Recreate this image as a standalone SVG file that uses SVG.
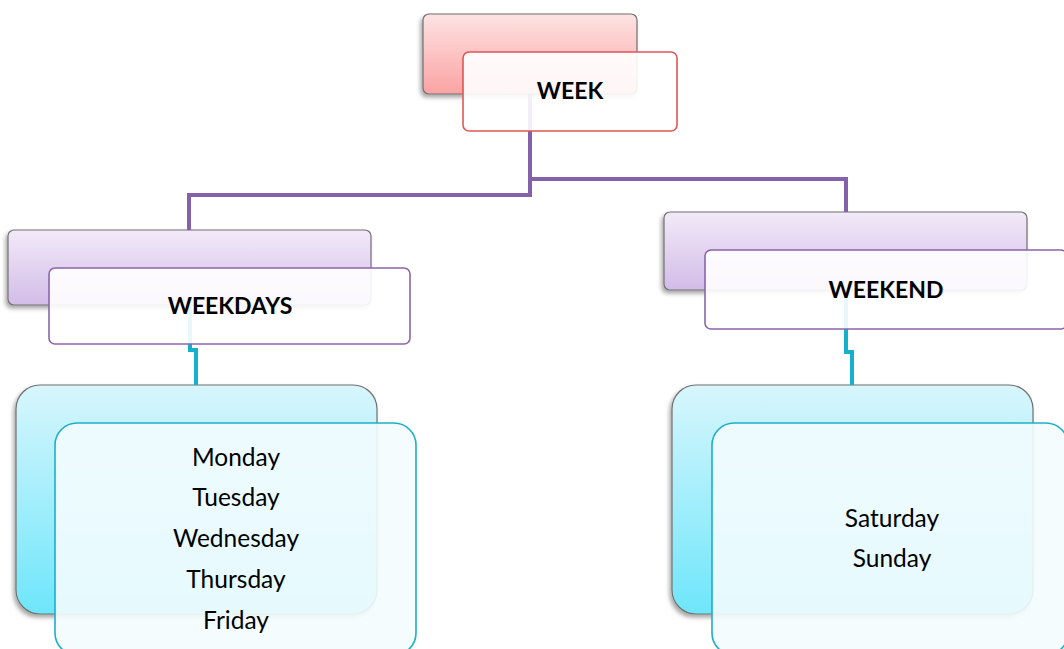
<svg xmlns="http://www.w3.org/2000/svg" width="1064" height="649" viewBox="0 0 1064 649">
<defs>
<linearGradient id="gPink" x1="0" y1="0" x2="0" y2="1"><stop offset="0" stop-color="#fde3e3"/><stop offset="1" stop-color="#fba3a3"/></linearGradient>
<linearGradient id="gPurple" x1="0" y1="0" x2="0" y2="1"><stop offset="0" stop-color="#f2eaf8"/><stop offset="1" stop-color="#d2bce8"/></linearGradient>
<linearGradient id="gCyan" x1="0" y1="0" x2="0" y2="1"><stop offset="0" stop-color="#d8f6fc"/><stop offset="1" stop-color="#6ee6fb"/></linearGradient>
<filter id="sh" x="-10%" y="-10%" width="120%" height="130%"><feDropShadow dx="-2" dy="3" stdDeviation="2" flood-color="#000" flood-opacity="0.35"/></filter>
</defs>
<style>
.back{stroke:#707070;stroke-width:1.2;filter:url(#sh)}
.front{fill:#ffffff;fill-opacity:0.9;stroke-width:1.6}
.frontc{fill:#f3fcfe;fill-opacity:0.9;stroke:#1eaec8;stroke-width:1.6}
.head{font-family:Lato,"Liberation Sans",sans-serif;font-weight:bold;font-size:23px;fill:#000;text-anchor:middle}
.item{font-family:Lato,"Liberation Sans",sans-serif;font-size:24.5px;fill:#000;text-anchor:middle}
.cp{fill:none;stroke:#8461a8;stroke-width:4}
.cc{fill:none;stroke:#14b0cc;stroke-width:4}
</style>
<rect width="1064" height="649" fill="#ffffff"/>
<g id="back-layer">
<rect class="back" x="423" y="14" width="214" height="80" rx="6" fill="url(#gPink)"/>
<rect class="back" x="8" y="230" width="363" height="75" rx="6" fill="url(#gPurple)"/>
<rect class="back" x="664" y="212" width="363" height="78" rx="6" fill="url(#gPurple)"/>
<rect class="back" x="16" y="385" width="361" height="229" rx="24" fill="url(#gCyan)"/>
<rect class="back" x="672" y="385" width="361" height="229" rx="24" fill="url(#gCyan)"/>
</g>
<g id="connectors">
<path class="cp" d="M530,94 V195 H189 V230"/>
<path class="cp" d="M530,179 H846 V212"/>
<path class="cc" d="M190,305 V350 H196 V385"/>
<path class="cc" d="M846,290 V352 H852 V385"/>
</g>
<g id="week">
<rect class="front" x="463" y="52" width="214" height="79" rx="6" stroke="#e05656"/>
<text class="head" x="570" y="99">WEEK</text>
</g>
<g id="weekdays">
<rect class="front" x="49" y="268" width="361" height="76" rx="6" stroke="#8c64aa"/>
<text class="head" x="230" y="314">WEEKDAYS</text>
</g>
<g id="weekend">
<rect class="front" x="705" y="250" width="362" height="79" rx="6" stroke="#8c64aa"/>
<text class="head" x="886" y="298">WEEKEND</text>
</g>
<g id="weekdays-list">
<rect class="frontc" x="55" y="423" width="361" height="232" rx="22"/>
<text class="item" x="236" y="466">Monday</text>
<text class="item" x="236" y="506">Tuesday</text>
<text class="item" x="236" y="547">Wednesday</text>
<text class="item" x="236" y="588">Thursday</text>
<text class="item" x="236" y="629">Friday</text>
</g>
<g id="weekend-list">
<rect class="frontc" x="712" y="423" width="356" height="232" rx="22"/>
<text class="item" x="892" y="527">Saturday</text>
<text class="item" x="892" y="567">Sunday</text>
</g>
</svg>
